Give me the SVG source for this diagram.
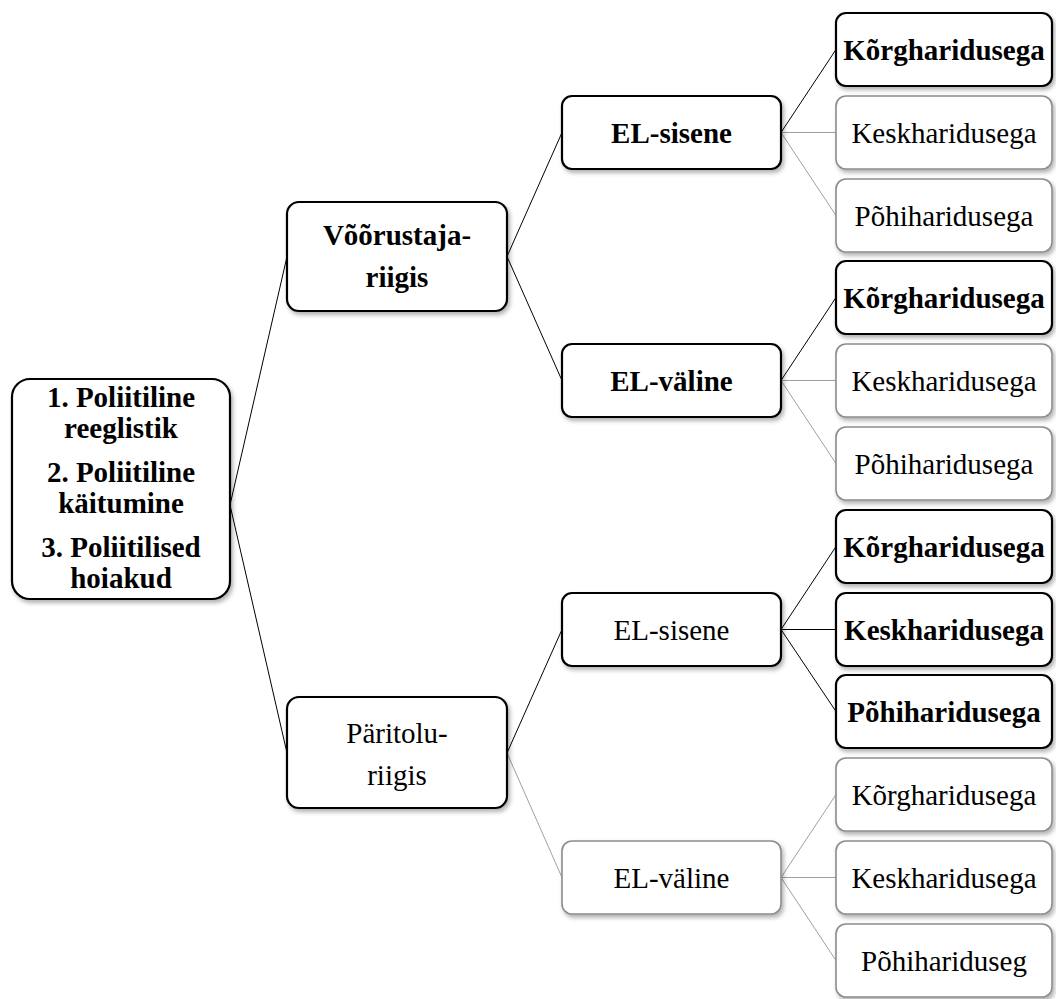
<svg xmlns="http://www.w3.org/2000/svg" width="1056" height="999" viewBox="0 0 1056 999">
<defs>
<filter id="sh" x="-10%" y="-10%" width="130%" height="140%">
<feDropShadow dx="2" dy="3" stdDeviation="2" flood-color="#000" flood-opacity="0.3"/>
</filter>
</defs>
<style>
.box{fill:#fff;filter:url(#sh)}
.strong{stroke:#000;stroke-width:2.2}
.weak{stroke:#8c8c8c;stroke-width:1.6}
text{font-family:"Liberation Serif","Times New Roman",serif;font-size:29px;fill:#000;text-anchor:middle}
.b{font-weight:bold}
.cb{stroke:#000;stroke-width:1;fill:none}
.cg{stroke:#a0a0a0;stroke-width:1;fill:none}
</style>
<rect width="1056" height="999" fill="#fff"/>
<g id="connectors">
<line class="cb" x1="230" y1="505" x2="287" y2="256.5"/>
<line class="cb" x1="230" y1="505" x2="287" y2="753"/>
<line class="cb" x1="507" y1="256.5" x2="562" y2="132.5"/>
<line class="cb" x1="507" y1="256.5" x2="562" y2="380.5"/>
<line class="cb" x1="507" y1="753" x2="562" y2="629.5"/>
<line class="cg" x1="507" y1="753" x2="562" y2="877.5"/>
<line class="cb" x1="781" y1="132.5" x2="836" y2="49.5"/>
<line class="cg" x1="781" y1="132.5" x2="836" y2="132.5"/>
<line class="cg" x1="781" y1="132.5" x2="836" y2="215.5"/>
<line class="cb" x1="781" y1="380.5" x2="836" y2="297.5"/>
<line class="cg" x1="781" y1="380.5" x2="836" y2="380.5"/>
<line class="cg" x1="781" y1="380.5" x2="836" y2="463.5"/>
<line class="cb" x1="781" y1="629.5" x2="836" y2="546.5"/>
<line class="cb" x1="781" y1="629.5" x2="836" y2="629.5"/>
<line class="cb" x1="781" y1="629.5" x2="836" y2="711.5"/>
<line class="cg" x1="781" y1="877.5" x2="836" y2="794.5"/>
<line class="cg" x1="781" y1="877.5" x2="836" y2="877.5"/>
<line class="cg" x1="781" y1="877.5" x2="836" y2="960.5"/>
</g>
<g id="root">
<rect class="box strong" x="12" y="379" width="218" height="220" rx="18"/>
<text class="b" x="121" y="407">1. Poliitiline</text>
<text class="b" x="121" y="438">reeglistik</text>
<text class="b" x="121" y="482">2. Poliitiline</text>
<text class="b" x="121" y="513">käitumine</text>
<text class="b" x="121" y="557">3. Poliitilised</text>
<text class="b" x="121" y="588">hoiakud</text>
</g>
<g id="n-vooorustaja">
<rect class="box strong" x="287" y="202" width="220" height="109" rx="12"/>
<text class="b" x="397" y="245">Võõrustaja-</text>
<text class="b" x="397" y="287">riigis</text>
</g>
<g id="n-paritolu">
<rect class="box strong" x="287" y="697" width="220" height="111" rx="12"/>
<text x="397" y="743">Päritolu-</text>
<text x="397" y="785">riigis</text>
</g>
<g id="n-v-sisene">
<rect class="box strong" x="562" y="96" width="219" height="73" rx="10"/>
<text class="b" x="671.5" y="143">EL-sisene</text>
</g>
<g id="n-v-valine">
<rect class="box strong" x="562" y="344" width="219" height="73" rx="10"/>
<text class="b" x="671.5" y="391">EL-väline</text>
</g>
<g id="n-p-sisene">
<rect class="box strong" x="562" y="593" width="219" height="73" rx="10"/>
<text x="671.5" y="640">EL-sisene</text>
</g>
<g id="n-p-valine">
<rect class="box weak" x="562" y="841" width="219" height="73" rx="10"/>
<text x="671.5" y="888">EL-väline</text>
</g>
<g id="leaf1"><rect class="box strong" x="836" y="13" width="216" height="73" rx="10"/><text class="b" x="944" y="60">Kõrgharidusega</text></g>
<g id="leaf2"><rect class="box weak" x="836" y="96" width="216" height="73" rx="10"/><text x="944" y="143">Keskharidusega</text></g>
<g id="leaf3"><rect class="box weak" x="836" y="179" width="216" height="73" rx="10"/><text x="944" y="226">Põhiharidusega</text></g>
<g id="leaf4"><rect class="box strong" x="836" y="261" width="216" height="73" rx="10"/><text class="b" x="944" y="308">Kõrgharidusega</text></g>
<g id="leaf5"><rect class="box weak" x="836" y="344" width="216" height="73" rx="10"/><text x="944" y="391">Keskharidusega</text></g>
<g id="leaf6"><rect class="box weak" x="836" y="427" width="216" height="73" rx="10"/><text x="944" y="474">Põhiharidusega</text></g>
<g id="leaf7"><rect class="box strong" x="836" y="510" width="216" height="73" rx="10"/><text class="b" x="944" y="557">Kõrgharidusega</text></g>
<g id="leaf8"><rect class="box strong" x="836" y="593" width="216" height="73" rx="10"/><text class="b" x="944" y="640">Keskharidusega</text></g>
<g id="leaf9"><rect class="box strong" x="836" y="675" width="216" height="73" rx="10"/><text class="b" x="944" y="722">Põhiharidusega</text></g>
<g id="leaf10"><rect class="box weak" x="836" y="758" width="216" height="73" rx="10"/><text x="944" y="805">Kõrgharidusega</text></g>
<g id="leaf11"><rect class="box weak" x="836" y="841" width="216" height="73" rx="10"/><text x="944" y="888">Keskharidusega</text></g>
<g id="leaf12"><rect class="box weak" x="836" y="924" width="216" height="73" rx="10"/><text x="944" y="971">P&#245;hiharidus&#101;&#103;</text></g>
</svg>
